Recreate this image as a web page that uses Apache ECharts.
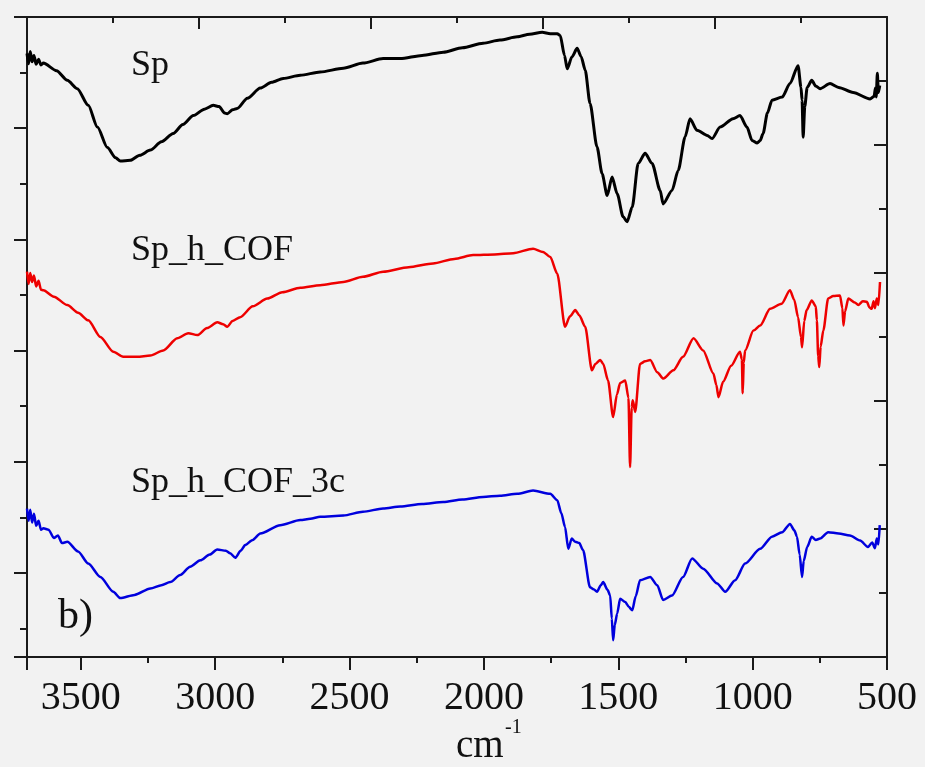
<!DOCTYPE html>
<html>
<head>
<meta charset="utf-8">
<script src="https://cdn.jsdelivr.net/npm/echarts@6/dist/echarts.min.js"></script>
<style>
html,body{margin:0;padding:0;background:#f2f2f2;}
#chart{width:925px;height:767px;}
</style>
</head>
<body>
<div id="chart"></div>
<script>
// wavenumber (cm-1) and transmittance-like values (a.u., 0-100 scale of the frame)
var xTicks = [3500, 3000, 2500, 2000, 1500, 1000, 500];
// tick positions of the unlabelled top frame edge, in cm-1 (odd entries are the long ticks)
var topTickWn = [3380, 3060, 2740, 2420, 2100, 1780, 1460, 1140, 820];

var spWn = [3700,3694,3688,3681,3674,3666,3657,3648,3639,3590,3550,3513,3472,3438,3401,3370,3353,3316,3280,3241,3200,3156,3120,3081,3040,3007,2985,2965,2955,2935,2918,2880,2832,2790,2747,2683,2609,2523,2450,2375,2311,2230,2151,2080,2003,1940,1876,1830,1783,1753,1727,1716,1700,1690,1672,1653,1638,1623,1605,1579,1560,1541,1523,1504,1482,1467,1448,1426,1400,1374,1344,1333,1300,1277,1251,1233,1207,1169,1151,1121,1073,1047,1021,1002,983,972,961,945,928,890,861,831,820,816,812,806,797,780,765,749,712,680,626,563,548,543,540,536,532,527];
var spT = [94.3,92.7,94.6,93.0,94.0,92.6,93.4,92.5,92.8,91.6,90.1,88.8,86.2,82.8,79.6,78.0,77.5,77.6,78.4,79.2,80.5,81.8,83.2,84.6,85.6,86.2,86.0,85.0,84.9,85.5,85.7,87.3,88.9,89.8,90.4,90.9,91.4,92.0,92.8,93.5,93.5,94.0,94.5,95.2,95.9,96.4,96.9,97.3,97.6,97.4,97.4,97.1,94.0,91.9,93.8,95.1,93.8,91.7,86.5,79.7,75.5,72.1,75.0,72.4,68.8,68.0,70.3,77.1,78.7,77.1,72.9,70.8,72.9,76.0,81.3,84.1,82.3,81.5,81.0,82.8,84.1,84.6,82.8,80.7,80.3,80.7,81.8,85.0,87.0,87.5,89.6,92.4,89.0,87.0,81.2,86.0,89.0,90.1,89.2,88.8,89.6,89.0,88.2,87.2,87.6,88.9,87.5,91.2,88.2,89.3];

var cofWn = [3700,3694,3688,3681,3674,3666,3657,3648,3639,3600,3550,3510,3472,3427,3379,3342,3290,3241,3193,3141,3100,3066,3030,2992,2970,2955,2935,2907,2860,2806,2750,2683,2609,2523,2450,2375,2280,2189,2110,2040,1960,1891,1817,1780,1753,1727,1698,1680,1660,1645,1623,1598,1585,1567,1556,1538,1519,1505,1493,1474,1462,1456,1450,1446,1437,1419,1400,1381,1355,1332,1295,1259,1220,1184,1146,1135,1127,1110,1080,1047,1040,1037,1033,1028,997,972,935,892,861,845,831,820,816,808,799,780,765,761,756,752,747,737,719,700,675,666,662,656,644,620,607,590,575,565,557,550,545,538,532,526];
var cofT = [60.2,58.3,60.0,58.6,59.6,57.9,58.8,57.4,57.3,56.3,55.0,53.8,52.6,50.0,47.7,46.9,46.9,47.1,47.9,49.8,50.6,50.3,51.4,52.3,52.0,51.6,52.5,53.1,54.8,56.0,57.0,57.7,58.1,58.6,59.4,60.2,60.9,61.5,62.2,62.8,62.9,63.1,63.8,63.3,62.5,59.9,51.6,53.2,54.2,53.4,51.6,44.8,45.8,46.4,45.8,43.2,37.5,41.0,42.8,43.2,40.5,29.7,39.0,40.1,38.3,45.8,46.2,46.4,44.5,43.5,44.8,46.9,49.8,47.9,44.3,42.5,40.6,43.0,45.5,47.7,46.5,41.2,46.0,47.9,51.0,51.8,54.4,55.2,57.3,55.8,53.1,50.0,48.4,52.5,54.2,55.7,54.8,52.6,47.0,45.3,48.5,51.0,56.0,56.4,56.5,54.5,51.8,54.0,56.0,55.4,55.0,55.6,55.5,54.6,54.4,55.6,54.5,56.0,55.0,58.6];

var cof3cWn = [3700,3694,3688,3681,3674,3666,3657,3648,3639,3620,3600,3585,3570,3550,3510,3472,3427,3379,3353,3300,3241,3200,3167,3130,3093,3055,3020,2992,2960,2944,2925,2905,2888,2860,2832,2758,2683,2646,2609,2523,2450,2375,2311,2230,2151,2080,2003,1940,1876,1817,1753,1727,1712,1698,1686,1673,1660,1645,1631,1605,1592,1579,1565,1556,1540,1530,1524,1519,1513,1504,1493,1474,1460,1448,1435,1419,1381,1355,1333,1300,1259,1225,1184,1132,1102,1065,1028,972,928,890,861,845,835,825,816,810,797,780,765,749,719,680,638,600,571,555,545,538,532,527];
var cof3cT = [23.2,21.3,23.0,21.0,22.4,20.5,21.3,19.9,20.1,19.9,18.6,19.0,17.8,18.0,16.5,14.6,12.5,10.2,9.2,9.7,10.7,11.2,11.7,12.8,14.1,15.1,16.0,16.8,16.6,16.2,15.5,16.6,17.5,18.3,19.3,20.6,21.4,21.6,21.9,22.1,22.7,23.2,23.5,23.9,24.2,24.6,25.0,25.2,25.5,26.0,25.5,24.5,22.5,20.3,16.9,18.5,18.0,17.8,16.7,10.9,10.6,10.2,11.2,11.7,10.5,9.6,6.0,2.6,5.0,6.8,9.1,8.6,7.8,7.3,9.5,12.0,12.5,11.2,8.9,9.6,12.5,15.4,13.8,11.5,10.2,12.0,14.6,16.9,18.8,19.5,20.8,19.8,18.8,16.0,12.5,15.0,17.2,18.8,18.3,18.5,19.5,19.3,19.0,18.2,17.2,17.9,17.0,18.5,17.6,20.6];

var seriesNames = ['Sp', 'Sp_h_COF', 'Sp_h_COF_3c'];
var seriesColors = ['#000000', '#ee0000', '#0000dd'];

function pairs(w, t) { return w.map(function (v, i) { return [v, t[i]]; }); }
var datasets = [pairs(spWn, spT), pairs(cofWn, cofT), pairs(cof3cWn, cof3cT)];

var AX = '#1a1a1a';
var serif = 'Liberation Serif';
function axisLine() { return { show: true, onZero: false, lineStyle: { color: AX, width: 2 } }; }
var chart = echarts.init(document.getElementById('chart'));

var textGraphics = [
  { type: 'text', z: 50, style: { text: 'Sp', x: 131, y: 66, font: '36px "Liberation Serif"', fill: '#111', verticalAlign: 'middle' } },
  { type: 'text', z: 50, style: { text: 'Sp_h_COF', x: 131, y: 251, font: '36px "Liberation Serif"', fill: '#111', verticalAlign: 'middle' } },
  { type: 'text', z: 50, style: { text: 'Sp_h_COF_3c', x: 131, y: 483, font: '36px "Liberation Serif"', fill: '#111', verticalAlign: 'middle' } },
  { type: 'text', z: 50, style: { text: 'b)', x: 58, y: 617, font: '42px "Liberation Serif"', fill: '#111', verticalAlign: 'middle' } },
  { type: 'text', z: 50, style: { text: 'cm', x: 456, y: 747, font: '39px "Liberation Serif"', fill: '#111', verticalAlign: 'middle' } },
  { type: 'text', z: 50, style: { text: '-1', x: 505, y: 728, font: '20px "Liberation Serif"', fill: '#111', verticalAlign: 'middle' } }
];

var option = {
  animation: false,
  backgroundColor: '#f2f2f2',
  grid: { left: 27, top: 17, width: 860, height: 640, outerBoundsMode: 'none', containLabel: false },
  xAxis: [
    {
      type: 'value', position: 'bottom', min: 500, max: 3700, interval: 500, inverse: true,
      axisLine: axisLine(),
      axisTick: { show: true, inside: false, length: 13, lineStyle: { color: AX, width: 2 } },
      minorTick: { show: true, splitNumber: 2, length: 6, lineStyle: { color: AX, width: 2 } },
      axisLabel: { show: true, margin: 21, fontFamily: serif, fontSize: 40, color: '#111', showMaxLabel: false,
        formatter: function (v) { return xTicks.indexOf(v) >= 0 ? String(v) : ''; } },
      splitLine: { show: false }
    },
    {
      type: 'value', position: 'top', min: 0, max: 5, interval: 1,
      axisLine: axisLine(),
      axisTick: { show: false }, minorTick: { show: false },
      axisLabel: { show: false }, splitLine: { show: false }
    }
  ],
  yAxis: [
    {
      type: 'value', position: 'left', min: 0, max: 5.755, interval: 1, inverse: true,
      axisLine: axisLine(),
      axisTick: { show: true, inside: false, length: 13, lineStyle: { color: AX, width: 2 } },
      minorTick: { show: true, splitNumber: 2, length: 7, lineStyle: { color: AX, width: 2 } },
      axisLabel: { show: false }, splitLine: { show: false }
    },
    {
      type: 'value', position: 'right', min: 0, max: 5, interval: 1,
      axisLine: axisLine(),
      axisTick: { show: true, inside: true, length: 13, lineStyle: { color: AX, width: 2 } },
      minorTick: { show: true, splitNumber: 2, length: 8, lineStyle: { color: AX, width: 2 } },
      axisLabel: { show: false }, splitLine: { show: false }
    },
    { type: 'value', show: false, min: 0, max: 100, position: 'left', axisLine: { onZero: false } }
  ],
  series: datasets.map(function (d, i) {
    return {
      name: seriesNames[i], type: 'line', xAxisIndex: 0, yAxisIndex: 2,
      data: d, showSymbol: false, smooth: 0.25, smoothMonotone: 'x',
      lineStyle: { color: seriesColors[i], width: i === 0 ? 3 : 2.5 },
      itemStyle: { color: seriesColors[i] }
    };
  }),
  graphic: textGraphics
};
chart.setOption(option);

// top-edge ticks: positioned through the chart's own x scale (series 0 coordinate system)
var tickGraphics = topTickWn.map(function (w, i) {
  var p = chart.convertToPixel({ seriesIndex: 0 }, [w, 100]);
  var len = (i % 2 === 1) ? 12 : 6;
  return { type: 'line', z: 100, silent: true,
    shape: { x1: p[0], y1: p[1], x2: p[0], y2: p[1] + len },
    style: { stroke: AX, lineWidth: 2 } };
});
chart.setOption({ graphic: textGraphics.concat(tickGraphics) });
</script>
</body>
</html>
